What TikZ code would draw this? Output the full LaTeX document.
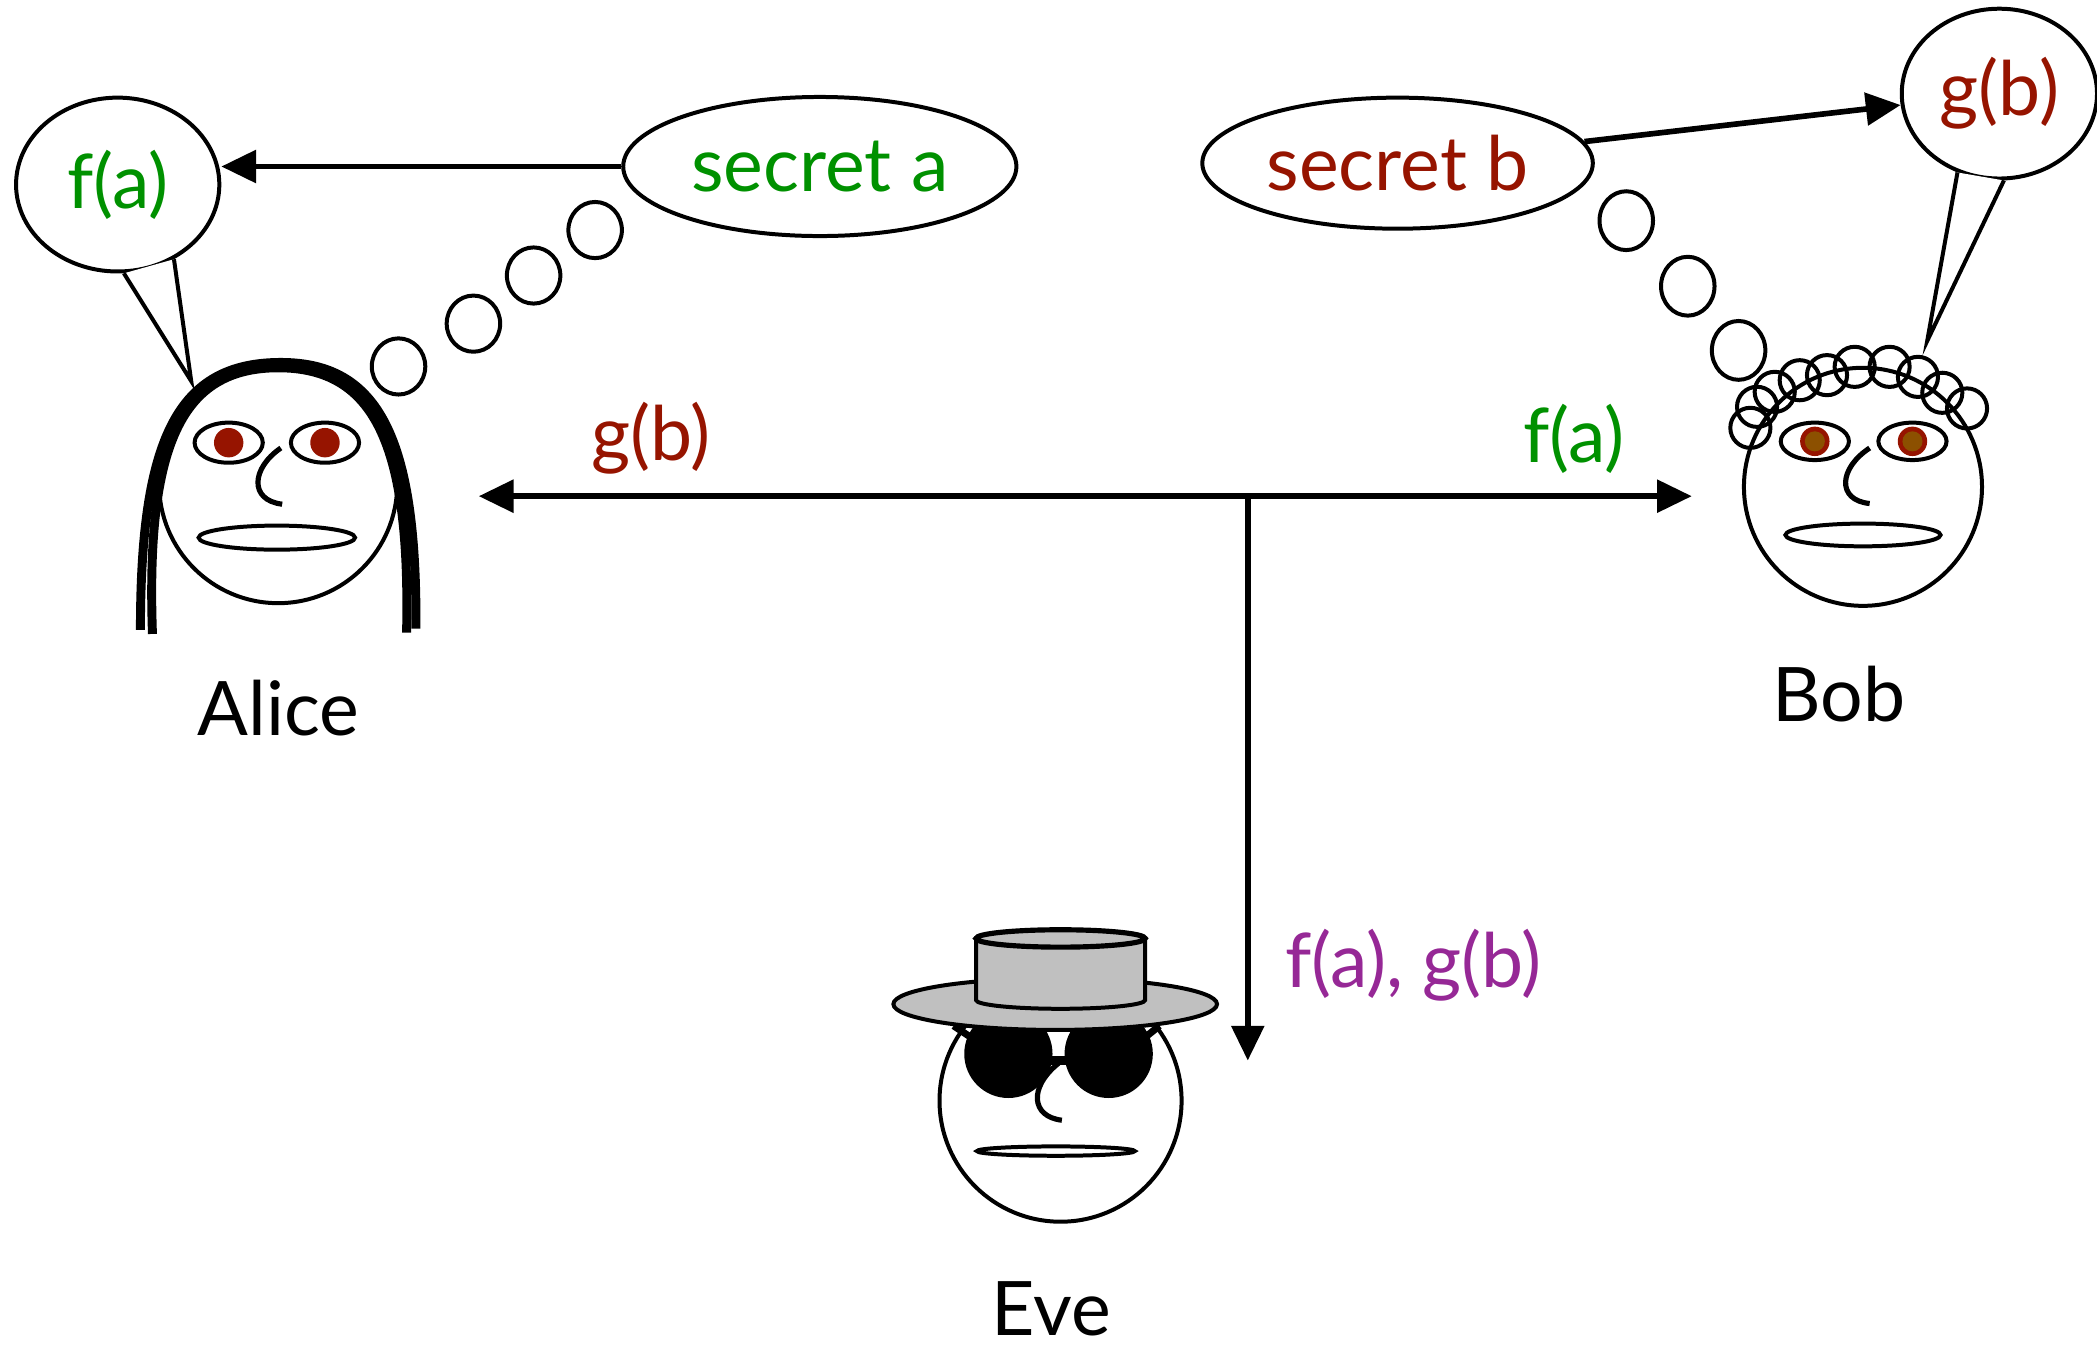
\documentclass[tikz,border=0pt]{standalone}
\usepackage{fontspec}
\setmainfont{Lato}
\usetikzlibrary{arrows.meta, positioning, shapes}

\definecolor{keygreen}{RGB}{0,145,0}
\definecolor{keyred}{RGB}{150,20,0}
\definecolor{leakpurple}{RGB}{150,40,150}
\definecolor{hatgray}{RGB}{192,192,192}
\definecolor{iris}{RGB}{140,80,0}

\begin{document}
\begin{tikzpicture}[
    font=\fontsize{16}{19}\selectfont,
    line width=0.85pt,
    face/.style={circle, draw, minimum size=1.78cm, inner sep=0pt},
    secretbox/.style={ellipse, draw, minimum width=2.94cm, minimum height=1.04cm, inner sep=0pt},
    speech/.style={ellipse, draw, minimum width=1.52cm, minimum height=1.30cm, inner sep=0pt},
    arrow/.style={-{Triangle[length=2.6mm, width=2.4mm]}, line width=1.2pt},
    hair/.style={line width=1.9pt},
    nose/.style={line width=1.1pt}
]
\fill[white] (0,0) rectangle (15.68,-10.07);
\useasboundingbox (0,0) rectangle (15.68,-10.07);

% Nodes
\node[face] (alice) at (2.08,-3.62) {};
\node[face] (bob) at (13.93,-3.64) {};
\node[face, minimum size=1.81cm] (eve) at (7.93,-8.23) {};

\node[secretbox, text=keygreen] (secretA) at (6.13,-1.245) {secret a};
\node[secretbox, minimum width=2.92cm, minimum height=0.98cm, text=keyred] (secretB) at (10.45,-1.22) {secret b};
\node[speech, text=keygreen] (fa) at (0.88,-1.38) {f(a)};
\node[speech, minimum width=1.46cm, minimum height=1.27cm, text=keyred] (gb) at (14.95,-0.70) {g(b)};

% Speech bubble tails
\coordinate (aliceTip) at (1.43,-2.85);
\coordinate (bobTip) at (14.41,-2.55);
\fill[white] (fa.-86) -- (aliceTip) -- (fa.-53) -- cycle;
\draw (fa.-86) -- (aliceTip) -- (fa.-53);
\fill[white] (gb.-118) -- (bobTip) -- (gb.-87) -- cycle;
\draw (gb.-118) -- (bobTip) -- (gb.-87);

% Thought puffs
\foreach \x/\y in {2.98/-2.74, 3.54/-2.42, 3.99/-2.06, 4.45/-1.72}
  \draw (\x,\y) ellipse [x radius=0.2, y radius=0.21];
\foreach \x/\y in {12.16/-1.65, 12.62/-2.14, 13.00/-2.62}
  \draw (\x,\y) ellipse [x radius=0.2, y radius=0.22];

% Alice
\begin{scope}[shift={(alice.center)}]
  \draw[hair] (-1.03,-1.09) .. controls (-1.03,0.35) and (-0.75,0.91) .. (0.02,0.91)
    .. controls (0.75,0.91) and (1.04,0.35) .. (1.03,-1.08);
  \draw[hair] (-0.94,-1.12) .. controls (-0.99,0.3) and (-0.72,0.87) .. (0,0.87)
    .. controls (0.72,0.87) and (0.99,0.3) .. (0.96,-1.11);
  \foreach \ex in {-0.37,0.35} {
    \draw (\ex,0.31) ellipse [x radius=0.255, y radius=0.15];
    \fill[keyred] (\ex,0.31) circle [radius=0.11];
  }
  \draw[nose] (0.02,0.27) .. controls (-0.2,0.12) and (-0.22,-0.12) .. (0.03,-0.15);
  \draw (-0.01,-0.40) ellipse [x radius=0.585, y radius=0.09];
\end{scope}

% Bob
\begin{scope}[shift={(bob.center)}]
  \foreach \ex in {-0.36,0.37} {
    \draw (\ex,0.34) ellipse [x radius=0.255, y radius=0.14];
    \fill[keyred] (\ex,0.34) circle [radius=0.11];
    \fill[iris] (\ex,0.34) circle [radius=0.075];
  }
  \draw[nose] (0.05,0.29) .. controls (-0.18,0.14) and (-0.2,-0.1) .. (0.05,-0.125);
  \draw (0,-0.36) ellipse [x radius=0.58, y radius=0.085];
  \foreach \cx/\cy in {-0.842/0.441, -0.792/0.598, -0.660/0.710, -0.473/0.797, -0.269/0.835,
                       -0.062/0.897, 0.199/0.897, 0.411/0.822, 0.593/0.703, 0.778/0.586}
    \draw (\cx,\cy) circle [radius=0.15];
\end{scope}

% Eve
\begin{scope}[shift={(eve.center)}]
  \fill (-0.39,0.35) circle [radius=0.33];
  \fill (0.36,0.35) circle [radius=0.33];
  \draw[line width=2pt] (-0.1,0.3) -- (0.08,0.3);
  \draw[line width=1.5pt] (-0.68,0.48) -- (-0.80,0.56);
  \draw[line width=1.5pt] (0.64,0.48) -- (0.74,0.56);
  \draw[nose] (-0.015,0.28) .. controls (-0.24,0.1) and (-0.22,-0.12) .. (0.01,-0.146);
  \draw (-0.035,-0.377) ellipse [x radius=0.59, y radius=0.035];
  % hat
  \filldraw[fill=hatgray] (-0.04,0.722) ellipse [x radius=1.21, y radius=0.193];
  \filldraw[fill=hatgray] (-0.632,1.213) -- (-0.632,0.752)
    arc [start angle=180, end angle=360, x radius=0.632, y radius=0.065] -- (0.632,1.213) -- cycle;
  \filldraw[fill=hatgray, line width=1.1pt] (0,1.213) ellipse [x radius=0.632, y radius=0.065];
\end{scope}

% Arrows
\coordinate (split) at (9.33,-3.71);
\coordinate (toAlice) at (3.58,-3.71);
\coordinate (toBob) at (12.65,-3.71);
\coordinate (toEve) at (9.33,-7.93);
\draw[arrow] (secretA.west) -- (secretA.west -| fa.east);
\draw[arrow] (secretB) -- (gb);
\draw[arrow] (split) -- (toAlice);
\draw[arrow] (split) -- (toBob);
\draw[arrow] (split) -- (toEve);

% Labels
\node[text=keyred] (gbSent) at (4.87,-3.28) {g(b)};
\node[text=keygreen] (faSent) at (11.77,-3.28) {f(a)};
\node[text=leakpurple] (seen) at (10.57,-7.22) {f(a), g(b)};
\node[below=0.43cm of alice] (aliceName) {Alice};
\node[below=0.30cm of bob, xshift=-0.18cm] (bobName) {Bob};
\node[below=0.30cm of eve, xshift=-0.07cm] (eveName) {Eve};

\end{tikzpicture}
\end{document}
